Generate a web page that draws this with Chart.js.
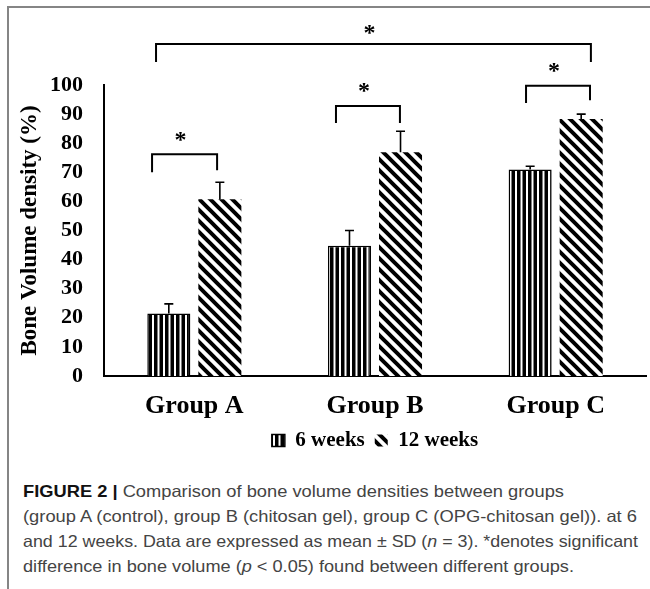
<!DOCTYPE html>
<html>
<head>
<meta charset="utf-8">
<script src="https://cdn.jsdelivr.net/npm/chart.js@4.4.1/dist/chart.umd.min.js"></script>
<style>
  html, body { margin: 0; padding: 0; background: #fff; overflow: hidden; }
  body { width: 650px; height: 589px; position: relative; }
  #frame { position: absolute; left: 7px; top: 6px; width: 700px; height: 700px;
           border-left: 2px solid #858585; border-top: 2px solid #858585; }
  #chart { position: absolute; left: 0; top: 0; }
  .cap { position: absolute; left: 23px; white-space: nowrap; transform-origin: 0 50%;
         font-family: 'Liberation Sans', Arial, sans-serif; font-size: 16.5px; line-height: 20px; color: #444; }
  .cap b { color: #111; }
</style>
</head>
<body>
<div id="frame"></div>
<canvas id="chart" width="650" height="461"></canvas>
<div class="cap" style="top:481px" data-right="564"><b>FIGURE 2 |</b> Comparison of bone volume densities between groups</div>
<div class="cap" style="top:506px" data-right="637">(group A (control), group B (chitosan gel), group C (OPG-chitosan gel)). at 6</div>
<div class="cap" style="top:531px" data-right="638">and 12 weeks. Data are expressed as mean ± SD (<i>n</i> = 3). *denotes significant</div>
<div class="cap" style="top:556px" data-right="574">difference in bone volume (<i>p</i> &lt; 0.05) found between different groups.</div>
<script>
// values
const groups = ['Group A', 'Group B', 'Group C'];
const weeks6 = [21.5, 44.8, 71.0];
const sd6 = [3.3, 5.2, 1.1];
const weeks12 = [60.7, 76.9, 88.3];
const sd12 = [5.9, 7.2, 1.7];

// significance brackets: x in category units, heights in % units
const brackets = [
    { from: -0.234, to: 0.126, level: 76.2, legFrom: 70.0, legTo: 70.7, star: 82.4 },
    { from: 0.784, to: 1.138, level: 92.8, legFrom: 86.9, legTo: 86.9, star: 99.0 },
    { from: 1.836, to: 2.190, level: 99.7, legFrom: 93.8, legTo: 94.8, star: 106.0 },
    { from: -0.212, to: 2.195, level: 114.1, legFrom: 107.9, legTo: 107.9, star: 119.0 }
];

const serif = "'Liberation Serif', 'Times New Roman', serif";

function verticalStripes() {
    const c = document.createElement('canvas');
    c.width = 11; c.height = 4;
    const g = c.getContext('2d');
    g.fillStyle = '#fff';
    g.fillRect(0, 0, 11, 4);
    g.fillStyle = '#000';
    g.fillRect(0, 0, 3.5, 4);
    g.fillRect(5.5, 0, 3.5, 4);
    return g.createPattern(c, 'repeat');
}

function diagonalStripes() {
    const s = 11;
    const c = document.createElement('canvas');
    c.width = s; c.height = s;
    const g = c.getContext('2d');
    g.fillStyle = '#fff';
    g.fillRect(0, 0, s, s);
    g.strokeStyle = '#000';
    g.lineWidth = 4;
    g.beginPath();
    g.moveTo(-2, -2); g.lineTo(s + 2, s + 2);
    g.moveTo(s - 2, -2); g.lineTo(s + 2, 2);
    g.moveTo(-2, s - 2); g.lineTo(2, s + 2);
    g.stroke();
    return g.createPattern(c, 'repeat');
}

const annotate = {
    id: 'annotate',
    afterDatasetsDraw(chart) {
        const { ctx, scales: { x, y } } = chart;
        ctx.save();
        ctx.strokeStyle = '#000';
        ctx.lineWidth = 1.6;

        // upper error whiskers
        [sd6, sd12].forEach((sds, di) => {
            chart.getDatasetMeta(di).data.forEach((bar, i) => {
                const v = chart.data.datasets[di].data[i];
                const top = y.getPixelForValue(v + sds[i]);
                ctx.beginPath();
                ctx.moveTo(bar.x, bar.y);
                ctx.lineTo(bar.x, top);
                ctx.moveTo(bar.x - 4.5, top);
                ctx.lineTo(bar.x + 4.5, top);
                ctx.stroke();
            });
        });

        // brackets with stars
        ctx.lineWidth = 2;
        ctx.font = 'bold 24px ' + serif;
        ctx.fillStyle = '#000';
        ctx.textAlign = 'center';
        ctx.textBaseline = 'alphabetic';
        const m = ctx.measureText('*');
        const shift = (m.actualBoundingBoxAscent - m.actualBoundingBoxDescent) / 2;
        brackets.forEach(b => {
            const x1 = x.getPixelForValue(b.from);
            const x2 = x.getPixelForValue(b.to);
            const yl = y.getPixelForValue(b.level);
            ctx.beginPath();
            ctx.moveTo(x1, y.getPixelForValue(b.legFrom));
            ctx.lineTo(x1, yl);
            ctx.lineTo(x2, yl);
            ctx.lineTo(x2, y.getPixelForValue(b.legTo));
            ctx.stroke();
            ctx.fillText('*', (x1 + x2) / 2 - 4, y.getPixelForValue(b.star) + shift);
        });
        ctx.restore();
    }
};

function draw() {
    const ctx = document.getElementById('chart');
    new Chart(ctx, {
        type: 'bar',
        data: {
            labels: groups,
            datasets: [{
                label: '6 weeks',
                data: weeks6,
                backgroundColor: verticalStripes(),
                borderColor: '#000',
                borderWidth: 1.5,
                categoryPercentage: 0.565,
                barPercentage: 0.843
            }, {
                label: '12 weeks',
                data: weeks12,
                backgroundColor: diagonalStripes(),
                borderWidth: 0,
                categoryPercentage: 0.565,
                barPercentage: 0.843
            }]
        },
        options: {
            responsive: false,
            animation: false,
            layout: { padding: { top: 85, right: 4, left: 0, bottom: 0 } },
            plugins: {
                tooltip: { enabled: false },
                legend: {
                    position: 'bottom',
                    fullSize: false,
                    labels: {
                        boxWidth: 13,
                        boxHeight: 12,
                        padding: 10,
                        color: '#000',
                        font: { family: serif, size: 21, weight: 'bold' }
                    }
                }
            },
            scales: {
                x: {
                    grid: { display: false, drawTicks: false },
                    border: { display: true, color: '#000', width: 2 },
                    ticks: { color: '#000', padding: 15, font: { family: serif, size: 26, weight: 'bold' } },
                    afterFit: s => { s.height = 44; }
                },
                y: {
                    min: 0,
                    max: 100,
                    grid: { display: false, drawTicks: false },
                    border: { display: true, color: '#000', width: 2 },
                    ticks: { stepSize: 10, autoSkip: false, padding: 21, color: '#000', font: { family: serif, size: 22, weight: 'bold' } },
                    title: {
                        display: true,
                        text: 'Bone Volume density (%)',
                        color: '#000',
                        padding: { top: 16, bottom: 0 },
                        font: { family: serif, size: 23, weight: 'bold' }
                    },
                    afterFit: s => { s.width = 104; }
                }
            }
        },
        plugins: [annotate]
    });

    // stretch each caption line to the width it has in the figure
    document.querySelectorAll('.cap').forEach(el => {
        const w = el.getBoundingClientRect().width;
        const target = +el.dataset.right - 23;
        el.style.transform = 'scaleX(' + (target / w) + ')';
    });
}

document.fonts.load('bold 20px "Liberation Serif"').then(draw, draw);
</script>
</body>
</html>
